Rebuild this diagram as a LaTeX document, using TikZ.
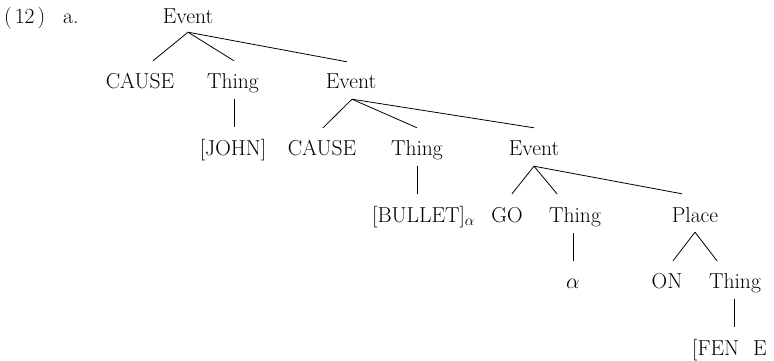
\RequirePackage{fix-cm}
\documentclass[tikz,border=0pt]{standalone}
\begin{document}
\begin{tikzpicture}[x=1pt,y=-1pt,
  font=\fontsize{21.6}{26}\selectfont,
  lbl/.style={inner sep=0pt,text height=15pt,text depth=0pt,anchor=base},
  lblw/.style={lbl,anchor=base west},
  branch/.style={line width=0.8pt}]
\useasboundingbox (0,0) rectangle (774,360);

% example number
\node[lblw] (num) at (4,23) {(\kern3pt 12\kern3pt)};
\node[lblw] (sub) at (63,23) {a.};

% row 0
\node[lbl] (ev1) at (188,23) {Event};
% row 1
\node[lbl] (cause1) at (140,88) {CAUSE};
\node[lbl] (thing1) at (233,88) {Thing};
\node[lbl] (ev2) at (351,88) {Event};
% row 2
\node[lbl] (john) at (233,155) {[JOHN]};
\node[lbl] (cause2) at (322,155) {CAUSE};
\node[lbl] (thing2) at (417,155) {Thing};
\node[lbl] (ev3) at (534,155) {Event};
% row 3
\node[lblw] (bullet) at (372,222) {[BULLET]$_{\alpha}$};
\node[lbl] (go) at (507,222) {GO};
\node[lbl] (thing3) at (575,222) {Thing};
\node[lbl] (place) at (695,222) {Place};
% row 4
\node[lbl] (alpha) at (573,288) {$\alpha$};
\node[lbl] (on) at (667,288) {ON};
\node[lbl] (thing4) at (735,288) {Thing};
% row 5
\node[lblw] (fen) at (692,355) {[FEN};
\node[lblw] (fene) at (753,355) {E};

% branches
\draw[branch] ([yshift=-9pt]ev1.south) -- ([xshift=13pt,yshift=12pt]cause1.north);
\draw[branch] ([yshift=-9pt]ev1.south) -- ([xshift=1pt,yshift=12pt]thing1.north);
\draw[branch] ([yshift=-9pt]ev1.south) -- ([xshift=-4pt,yshift=11pt]ev2.north);

\draw[branch] ([xshift=1pt,yshift=-11pt]thing1.south) -- ([xshift=1pt,yshift=13pt]thing1.south |- john.north);

\draw[branch] ([xshift=1pt,yshift=-11pt]ev2.south) -- ([xshift=1pt,yshift=12pt]cause2.north);
\draw[branch] ([xshift=1pt,yshift=-11pt]ev2.south) -- ([yshift=12pt]thing2.north);
\draw[branch] ([xshift=1pt,yshift=-11pt]ev2.south) -- ([yshift=12pt]ev3.north);

\draw[branch] ([yshift=-11pt]thing2.south) -- ([yshift=13pt]thing2.south |- bullet.north);

\draw[branch] ([yshift=-11pt]ev3.south) -- ([xshift=5pt,yshift=13pt]go.north);
\draw[branch] ([yshift=-11pt]ev3.south) -- ([xshift=-18pt,yshift=13pt]thing3.north);
\draw[branch] ([yshift=-11pt]ev3.south) -- ([xshift=-13pt,yshift=13pt]place.north);

\draw[branch] ([xshift=-2pt,yshift=-11pt]thing3.south) -- ([xshift=-2pt,yshift=12pt]thing3.south |- on.north);

\draw[branch] ([yshift=-10pt]place.south) -- ([xshift=6pt,yshift=12pt]on.north);
\draw[branch] ([yshift=-10pt]place.south) -- ([xshift=-18pt,yshift=12pt]thing4.north);

\draw[branch] ([xshift=-1pt,yshift=-11pt]thing4.south) -- ([xshift=-1pt,yshift=13pt]thing4.south |- fen.north);
\end{tikzpicture}
\end{document}
